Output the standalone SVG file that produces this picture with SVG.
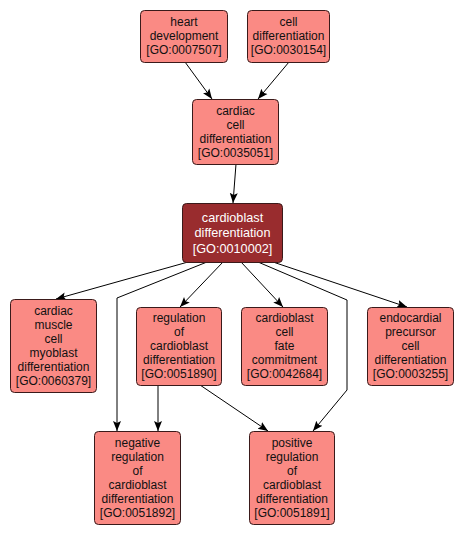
<svg xmlns="http://www.w3.org/2000/svg" width="463" height="536" viewBox="0 0 463 536">
<style>
.n rect{fill:#fa8a84;stroke:#3a1a1a;stroke-width:1}
.n text{font-family:"Liberation Sans",Arial,sans-serif;font-size:12px;fill:#111;text-anchor:middle}
.c rect{fill:#992c2e}
.c text{fill:#ffffff;font-size:12.7px}
.e path{fill:none;stroke:#000;stroke-width:1;marker-end:url(#a)}
</style>
<defs>
<marker id="a" viewBox="0 0 10 10" refX="10" refY="5" markerWidth="10" markerHeight="10" markerUnits="userSpaceOnUse" orient="auto">
<path d="M0,1 L10,5 L0,9 L2,5 Z" fill="#000"/>
</marker>
</defs>
<rect width="463" height="536" fill="#fff"/>
<g class="e">
<path d="M185,62 L212,99"/>
<path d="M289,62 L258,99"/>
<path d="M236,164 L233,203"/>
<path d="M188,262 L56,299"/>
<path d="M207,262 L117,298 L117,431"/>
<path d="M223,262 L180,307"/>
<path d="M241,262 L283,307"/>
<path d="M258,262 L347,300 L347,390 L313,431"/>
<path d="M273,262 L407,307"/>
<path d="M158,385 L158,431"/>
<path d="M200,385 L268,431"/>
</g>
<g id="n1" class="n"><rect x="140.5" y="10.5" width="87" height="52" rx="4"/>
<text x="184" y="26">heart</text><text x="184" y="40">development</text><text x="184" y="54">[GO:0007507]</text></g>
<g id="n2" class="n"><rect x="247.5" y="10.5" width="82" height="52" rx="4"/>
<text x="288.5" y="26">cell</text><text x="288.5" y="40">differentiation</text><text x="288.5" y="54">[GO:0030154]</text></g>
<g id="n3" class="n"><rect x="192.5" y="99.5" width="86" height="65" rx="4"/>
<text x="235.5" y="115">cardiac</text><text x="235.5" y="129">cell</text><text x="235.5" y="143">differentiation</text><text x="235.5" y="157">[GO:0035051]</text></g>
<g id="n4" class="n c"><rect x="182.5" y="203.5" width="100" height="59" rx="4"/>
<text x="232.5" y="222">cardioblast</text><text x="232.5" y="237">differentiation</text><text x="232.5" y="253">[GO:0010002]</text></g>
<g id="n5" class="n"><rect x="10.5" y="299.5" width="86" height="93" rx="4"/>
<text x="53.5" y="315">cardiac</text><text x="53.5" y="329">muscle</text><text x="53.5" y="343">cell</text><text x="53.5" y="357">myoblast</text><text x="53.5" y="371">differentiation</text><text x="53.5" y="385">[GO:0060379]</text></g>
<g id="n6" class="n"><rect x="136.5" y="307.5" width="85" height="78" rx="4"/>
<text x="179" y="322">regulation</text><text x="179" y="336">of</text><text x="179" y="350">cardioblast</text><text x="179" y="364">differentiation</text><text x="179" y="378">[GO:0051890]</text></g>
<g id="n7" class="n"><rect x="241.5" y="307.5" width="86" height="78" rx="4"/>
<text x="284.5" y="322">cardioblast</text><text x="284.5" y="336">cell</text><text x="284.5" y="350">fate</text><text x="284.5" y="364">commitment</text><text x="284.5" y="378">[GO:0042684]</text></g>
<g id="n8" class="n"><rect x="367.5" y="307.5" width="86" height="78" rx="4"/>
<text x="410.5" y="322">endocardial</text><text x="410.5" y="336">precursor</text><text x="410.5" y="350">cell</text><text x="410.5" y="364">differentiation</text><text x="410.5" y="378">[GO:0003255]</text></g>
<g id="n9" class="n"><rect x="94.5" y="431.5" width="86" height="93" rx="4"/>
<text x="137.5" y="447">negative</text><text x="137.5" y="461">regulation</text><text x="137.5" y="475">of</text><text x="137.5" y="489">cardioblast</text><text x="137.5" y="503">differentiation</text><text x="137.5" y="517">[GO:0051892]</text></g>
<g id="n10" class="n"><rect x="249.5" y="431.5" width="85" height="93" rx="4"/>
<text x="292" y="447">positive</text><text x="292" y="461">regulation</text><text x="292" y="475">of</text><text x="292" y="489">cardioblast</text><text x="292" y="503">differentiation</text><text x="292" y="517">[GO:0051891]</text></g>
</svg>
